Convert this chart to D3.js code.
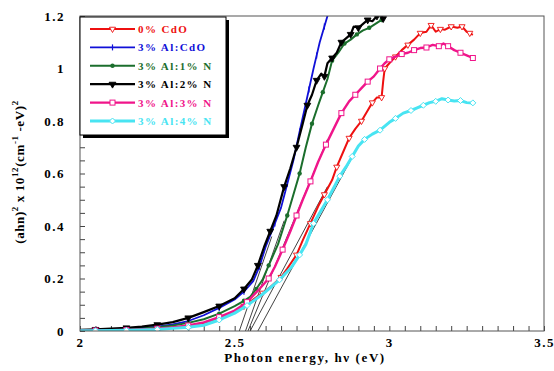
<!DOCTYPE html>
<html>
<head>
<meta charset="utf-8">
<script src="https://cdn.jsdelivr.net/npm/d3@7"></script>
<style>
  body { margin: 0; background: #fff; }
  text { font-family: 'Liberation Serif', 'Times New Roman', serif; font-weight: bold; }
</style>
</head>
<body>
<div id="chart"></div>
<script>
// data: [photon energy (eV), (ahv)^2 x 1e12]
var cdo0 = [[2.00,0.002],[2.05,0.003],[2.10,0.004],[2.15,0.005],[2.20,0.007],[2.25,0.009],[2.30,0.013],[2.35,0.019],[2.40,0.03],[2.45,0.047],[2.50,0.072],[2.53,0.095],[2.56,0.12],[2.59,0.145],[2.62,0.172],[2.65,0.205],[2.67,0.238],[2.70,0.29],[2.72,0.345],[2.745,0.41],[2.77,0.475],[2.79,0.52],[2.815,0.575],[2.83,0.625],[2.85,0.68],[2.87,0.735],[2.89,0.77],[2.91,0.80],[2.93,0.84],[2.945,0.87],[2.96,0.89],[2.975,0.89],[2.98,0.95],[2.985,1.0],[3.00,1.02],[3.02,1.045],[3.04,1.07],[3.06,1.09],[3.08,1.11],[3.10,1.135],[3.12,1.14],[3.135,1.165],[3.15,1.14],[3.165,1.15],[3.18,1.148],[3.20,1.16],[3.22,1.155],[3.235,1.16],[3.25,1.14],[3.26,1.135],[3.27,1.128]];
var alCdo = [[2.00,0.003],[2.05,0.004],[2.10,0.006],[2.15,0.008],[2.20,0.012],[2.25,0.017],[2.30,0.025],[2.35,0.038],[2.40,0.06],[2.45,0.088],[2.50,0.12],[2.53,0.15],[2.56,0.19],[2.58,0.245],[2.60,0.32],[2.63,0.41],[2.65,0.47],[2.67,0.56],[2.69,0.65],[2.71,0.76],[2.725,0.84],[2.74,0.92],[2.755,1.0],[2.765,1.05],[2.775,1.1],[2.79,1.16],[2.80,1.2],[2.803,1.21]];
var al1N = [[2.00,0.002],[2.05,0.003],[2.10,0.005],[2.15,0.007],[2.20,0.01],[2.25,0.014],[2.30,0.021],[2.35,0.031],[2.40,0.045],[2.45,0.066],[2.50,0.095],[2.53,0.115],[2.55,0.13],[2.57,0.16],[2.59,0.195],[2.61,0.25],[2.64,0.33],[2.67,0.44],[2.69,0.52],[2.71,0.6],[2.73,0.7],[2.75,0.79],[2.77,0.86],[2.785,0.91],[2.80,0.96],[2.815,1.03],[2.835,1.06],[2.855,1.095],[2.875,1.11],[2.895,1.13],[2.915,1.145],[2.935,1.155],[2.955,1.17],[2.975,1.185]];
var al2N = [[2.00,0.004],[2.05,0.006],[2.10,0.009],[2.15,0.012],[2.20,0.017],[2.25,0.024],[2.30,0.034],[2.35,0.05],[2.40,0.072],[2.45,0.095],[2.50,0.125],[2.53,0.16],[2.555,0.195],[2.575,0.25],[2.595,0.32],[2.615,0.38],[2.635,0.44],[2.66,0.55],[2.68,0.62],[2.70,0.70],[2.72,0.79],[2.735,0.86],[2.75,0.90],[2.765,0.955],[2.78,0.98],[2.79,0.97],[2.80,1.02],[2.815,1.04],[2.83,1.06],[2.845,1.10],[2.86,1.115],[2.875,1.13],[2.885,1.16],[2.90,1.155],[2.915,1.17],[2.93,1.185],[2.945,1.18],[2.96,1.2],[2.97,1.21],[2.98,1.19]];
var al3N = [[2.00,0.001],[2.05,0.002],[2.10,0.003],[2.15,0.004],[2.20,0.006],[2.25,0.009],[2.30,0.014],[2.35,0.021],[2.40,0.033],[2.45,0.053],[2.50,0.078],[2.54,0.11],[2.58,0.16],[2.61,0.2],[2.63,0.245],[2.655,0.31],[2.68,0.38],[2.70,0.44],[2.72,0.5],[2.745,0.57],[2.77,0.645],[2.795,0.71],[2.82,0.77],[2.845,0.83],[2.87,0.875],[2.89,0.90],[2.91,0.925],[2.93,0.95],[2.95,0.97],[2.97,1.0],[2.985,1.02],[3.00,1.035],[3.02,1.045],[3.04,1.055],[3.06,1.06],[3.08,1.07],[3.10,1.078],[3.12,1.08],[3.14,1.09],[3.16,1.085],[3.175,1.095],[3.19,1.085],[3.21,1.07],[3.23,1.06],[3.25,1.05],[3.27,1.04]];
var al4N = [[2.00,0.001],[2.05,0.001],[2.10,0.002],[2.15,0.003],[2.20,0.004],[2.25,0.006],[2.30,0.01],[2.35,0.014],[2.40,0.022],[2.45,0.042],[2.50,0.068],[2.54,0.097],[2.59,0.14],[2.645,0.195],[2.685,0.245],[2.71,0.29],[2.73,0.33],[2.755,0.41],[2.775,0.45],[2.80,0.50],[2.82,0.545],[2.84,0.59],[2.86,0.625],[2.88,0.665],[2.90,0.705],[2.92,0.73],[2.945,0.75],[2.97,0.765],[3.00,0.795],[3.02,0.81],[3.045,0.83],[3.07,0.84],[3.09,0.85],[3.11,0.86],[3.13,0.87],[3.15,0.875],[3.17,0.885],[3.19,0.88],[3.21,0.876],[3.23,0.878],[3.25,0.87],[3.27,0.869]];

var seriesNames = ['0% CdO', '3% Al:CdO', '3% Al:1% N', '3% Al:2% N', '3% Al:3% N', '3% Al:4% N'];
var seriesData = [cdo0, alCdo, al1N, al2N, al3N, al4N];

// linear extrapolations down to the energy axis: [x0, y0, x1, y1]
var tangents = [[2.515,0,2.62,0.36],[2.535,0,2.66,0.42],[2.543,0,2.80,0.73],[2.55,0,2.80,0.55],[2.575,0,2.905,0.716]];

var xMajor = [2, 2.5, 3, 3.5];
var xTickLabels = ['2', '2.5', '3', '3.5'];
var yMajor = [0, 0.2, 0.4, 0.6, 0.8, 1, 1.2];
var yTickLabels = ['0', '0.2', '0.4', '0.6', '0.8', '1', '1.2'];

// styles
var colors = ['#ee1010', '#1010d8', '#1b6e2c', '#000000', '#f0158a', '#48e4f2'];
var lineWidths = [2, 1.8, 2, 2.2, 2.4, 3];
var markers = ['tri-open', 'tick', 'circle', 'tri', 'square', 'diamond'];

var width = 554, height = 371;
var svg = d3.select('#chart').append('svg')
    .attr('width', width)
    .attr('height', height);

var x = d3.scaleLinear().domain([2, 3.5]).range([80, 544]);
var y = d3.scaleLinear().domain([0, 1.2]).range([331, 16]);

svg.append('clipPath').attr('id', 'plot-clip')
    .append('rect')
    .attr('x', x(2)).attr('y', y(1.2))
    .attr('width', x(3.5) - x(2)).attr('height', y(0) - y(1.2));

// minor ticks every 0.05
var xMinor = d3.range(0, 31).map(function(i) { return 2 + i * 0.05; });
var yMinor = d3.range(0, 25).map(function(i) { return i * 0.05; });

svg.append('g')
    .attr('transform', `translate(0, ${y(0)})`)
    .call(d3.axisBottom(x).tickValues(xMinor).tickFormat('').tickSize(-5).tickSizeOuter(0))
    .call(function(g) { g.select('.domain').remove(); g.selectAll('line').attr('stroke', '#444'); });
svg.append('g')
    .attr('transform', `translate(${x(2)}, 0)`)
    .call(d3.axisLeft(y).tickValues(yMinor).tickFormat('').tickSize(-5).tickSizeOuter(0))
    .call(function(g) { g.select('.domain').remove(); g.selectAll('line').attr('stroke', '#444'); });

// major labels
svg.append('g')
    .attr('transform', `translate(0, ${y(0)})`)
    .call(d3.axisBottom(x).tickValues(xMajor).tickFormat(function(d, i) { return xTickLabels[i]; }).tickSize(0).tickPadding(7))
    .call(function(g) {
        g.select('.domain').remove();
        g.selectAll('text').attr('font-size', '13px').attr('fill', '#000')
            .style('font-family', "'Liberation Serif', serif").style('font-weight', 'bold')
            .style('letter-spacing', '1.5px');
    });
svg.append('g')
    .attr('transform', `translate(${x(2)}, 0)`)
    .call(d3.axisLeft(y).tickValues(yMajor).tickFormat(function(d, i) { return yTickLabels[i]; }).tickSize(0).tickPadding(15))
    .call(function(g) {
        g.select('.domain').remove();
        g.selectAll('text').attr('font-size', '13px').attr('fill', '#000')
            .style('font-family', "'Liberation Serif', serif").style('font-weight', 'bold')
            .style('letter-spacing', '1.5px');
    });

// curves
var line = d3.line()
    .x(function(d) { return x(d[0]); })
    .y(function(d) { return y(d[1]); });

var gCurves = svg.append('g').attr('clip-path', 'url(#plot-clip)');

// tangent lines
gCurves.selectAll('line.tangent')
    .data(tangents)
    .enter().append('line')
    .attr('class', 'tangent')
    .attr('x1', function(d) { return x(d[0]); })
    .attr('y1', function(d) { return y(d[1]); })
    .attr('x2', function(d) { return x(d[2]); })
    .attr('y2', function(d) { return y(d[3]); })
    .attr('stroke', '#111')
    .attr('stroke-width', 0.8);

function drawMarker(g, type, color, cx, cy) {
    var m;
    if (type === 'tick') {
        m = g.append('path').attr('d', 'M0,-3V3').attr('stroke', color).attr('stroke-width', 1.2);
    } else if (type === 'tri-open' || type === 'tri') {
        m = g.append('path').attr('d', d3.symbol().type(d3.symbolTriangle).size(type === 'tri' ? 20 : 16)())
            .attr('fill', type === 'tri' ? color : '#fff')
            .attr('stroke', color).attr('stroke-width', 0.9)
            .attr('transform', `translate(${cx}, ${cy}) rotate(180)`);
        return m;
    } else if (type === 'circle') {
        m = g.append('circle').attr('r', 2.2).attr('fill', color);
    } else if (type === 'square') {
        m = g.append('rect').attr('x', -2.5).attr('y', -2.5).attr('width', 5).attr('height', 5)
            .attr('fill', '#fff').attr('stroke', color).attr('stroke-width', 1);
    } else if (type === 'diamond') {
        m = g.append('path').attr('d', 'M0,-3L3,0L0,3L-3,0Z')
            .attr('fill', '#fff').attr('stroke', color).attr('stroke-width', 1);
    }
    m.attr('transform', `translate(${cx}, ${cy})`);
    return m;
}

seriesData.forEach(function(data, s) {
    gCurves.append('path')
        .datum(data)
        .attr('d', line)
        .attr('fill', 'none')
        .attr('stroke', colors[s])
        .attr('stroke-width', lineWidths[s])
        .attr('stroke-linejoin', 'round');
    var gm = gCurves.append('g');
    data.forEach(function(d, i) {
        if (i % 2 === 1 && d[1] <= 1.2) drawMarker(gm, markers[s], colors[s], x(d[0]), y(d[1]));
    });
});

// frame
svg.append('rect')
    .attr('x', x(2)).attr('y', y(1.2))
    .attr('width', x(3.5) - x(2)).attr('height', y(0) - y(1.2))
    .attr('fill', 'none')
    .attr('stroke', '#555')
    .attr('stroke-width', 1);

// legend
var gLegend = svg.append('g').attr('transform', 'translate(80, 17)');
gLegend.append('rect')
    .attr('x', 3).attr('y', 3).attr('width', 146).attr('height', 118)
    .attr('fill', '#000');
gLegend.append('rect')
    .attr('x', 0).attr('y', 0).attr('width', 146).attr('height', 118)
    .attr('fill', '#fff').attr('stroke', '#000').attr('stroke-width', 1);

seriesNames.forEach(function(name, i) {
    var ly = 12 + i * 18.4;
    gLegend.append('line')
        .attr('x1', 10).attr('x2', 55).attr('y1', ly).attr('y2', ly)
        .attr('stroke', colors[i]).attr('stroke-width', lineWidths[i]);
    drawMarker(gLegend, markers[i], colors[i], 32.5, ly);
    gLegend.append('text')
        .attr('x', 58).attr('y', ly + 4)
        .attr('font-size', '11px')
        .style('letter-spacing', '1.4px')
        .attr('fill', colors[i])
        .text(name);
});

// axis titles
svg.append('text')
    .attr('x', 305).attr('y', 362)
    .attr('text-anchor', 'middle')
    .attr('font-size', '13px')
    .style('letter-spacing', '1.6px')
    .text('Photon energy, h\u03bd (eV)');

var yTitle = svg.append('text')
    .attr('transform', 'translate(24, 172) rotate(-90)')
    .attr('text-anchor', 'middle')
    .attr('font-size', '13px')
    .style('letter-spacing', '0.6px');
yTitle.append('tspan').text('(ahn)');
yTitle.append('tspan').attr('font-size', '9px').attr('dy', -6).text('2');
yTitle.append('tspan').attr('dy', 6).text(' x 10');
yTitle.append('tspan').attr('font-size', '9px').attr('dy', -6).text('12');
yTitle.append('tspan').attr('dy', 6).text('(cm');
yTitle.append('tspan').attr('font-size', '9px').attr('dy', -6).text('-1');
yTitle.append('tspan').attr('dy', 6).text(' -eV)');
yTitle.append('tspan').attr('font-size', '9px').attr('dy', -6).text('2');
</script>
</body>
</html>
